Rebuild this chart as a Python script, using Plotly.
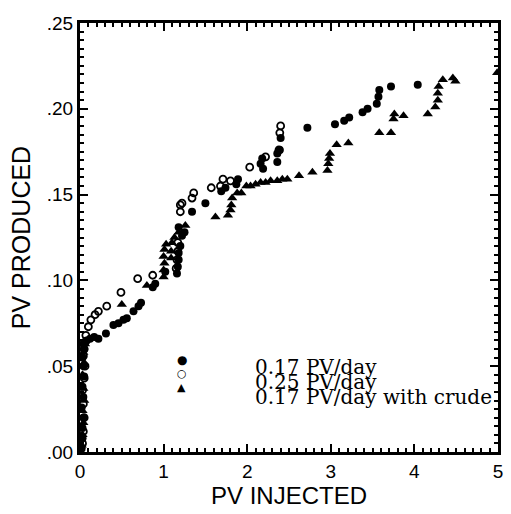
import plotly.graph_objects as go

# ---- data ----
filled_x = [0.02, 0.03, 0.03, 0.04, 0.02, 0.04, 0.03, 0.05, 0.04, 0.03, 0.05, 0.04,
            0.08, 0.12, 0.17, 0.22, 0.31, 0.40, 0.46, 0.52, 0.56, 0.64, 0.70, 0.73,
            0.87, 0.90, 1.02, 1.16, 1.17, 1.18, 1.18, 1.20, 1.18, 1.22, 1.25, 1.34,
            1.50, 1.69, 1.74, 1.87, 1.89, 2.16, 2.19, 2.18, 2.36, 2.36, 2.39, 2.40,
            2.72, 3.05, 3.16, 3.22, 3.38, 3.44, 3.55, 3.57, 3.58, 3.72, 4.04]
filled_y = [0.002, 0.008, 0.014, 0.020, 0.026, 0.032, 0.038, 0.044, 0.050, 0.055, 0.060, 0.063,
            0.065, 0.066, 0.067, 0.066, 0.069, 0.074, 0.075, 0.077, 0.078, 0.082, 0.085, 0.087,
            0.096, 0.098, 0.105, 0.104, 0.108, 0.112, 0.116, 0.120, 0.131, 0.126, 0.128, 0.140,
            0.145, 0.152, 0.154, 0.156, 0.159, 0.168, 0.165, 0.171, 0.169, 0.174, 0.176, 0.183,
            0.189, 0.191, 0.193, 0.195, 0.198, 0.200, 0.203, 0.207, 0.211, 0.213, 0.214]

open_x = [0.03, 0.04, 0.05, 0.04, 0.03, 0.05, 0.06, 0.04, 0.05, 0.06,
          0.07, 0.10, 0.13, 0.18, 0.22, 0.32, 0.49, 0.69, 0.87, 1.15, 1.16, 1.17,
          1.17, 1.20, 1.20, 1.22, 1.34, 1.36, 1.57, 1.68, 1.71, 1.80, 2.03, 2.22,
          2.38, 2.39, 2.40]
open_y = [0.005, 0.012, 0.020, 0.028, 0.036, 0.043, 0.050, 0.056, 0.060, 0.064,
          0.068, 0.073, 0.077, 0.080, 0.082, 0.085, 0.093, 0.101, 0.103, 0.107, 0.112, 0.117,
          0.122, 0.140, 0.144, 0.145, 0.148, 0.151, 0.154, 0.155, 0.159, 0.158, 0.166, 0.172,
          0.176, 0.186, 0.190]

tri_x = [0.02, 0.03, 0.04, 0.03, 0.05, 0.04, 0.03, 0.05, 0.04, 0.06,
         0.50, 0.80, 1.00, 1.00, 1.01, 1.00, 1.01, 1.03, 1.09, 1.09, 1.10, 1.13,
         1.18, 1.26, 1.62, 1.77, 1.80, 1.81, 1.82, 1.88, 1.93, 1.99, 2.04, 2.10,
         2.16, 2.22, 2.28, 2.36, 2.42, 2.48, 2.62, 2.78, 2.96, 2.97, 2.98, 2.99,
         3.07, 3.21, 3.58, 3.72, 3.75, 3.76, 3.87, 4.16, 4.25, 4.28, 4.28, 4.29,
         4.34, 4.46, 4.49, 4.99]
tri_y = [0.004, 0.010, 0.017, 0.024, 0.030, 0.037, 0.045, 0.052, 0.058, 0.063,
         0.086, 0.097, 0.102, 0.106, 0.110, 0.114, 0.118, 0.121, 0.113, 0.117, 0.122, 0.125,
         0.128, 0.132, 0.137, 0.138, 0.141, 0.144, 0.148, 0.151, 0.151, 0.155, 0.155, 0.156,
         0.157, 0.157, 0.158, 0.158, 0.159, 0.159, 0.161, 0.163, 0.164, 0.168, 0.171, 0.174,
         0.179, 0.180, 0.186, 0.186, 0.194, 0.197, 0.196, 0.197, 0.201, 0.205, 0.209, 0.213,
         0.217, 0.218, 0.216, 0.221]

x_ticks = [0, 1, 2, 3, 4, 5]
x_ticktext = ["0", "1", "2", "3", "4", "5"]
y_ticks = [0.0, 0.05, 0.10, 0.15, 0.20, 0.25]
y_ticktext = [".00", ".05", ".10", ".15", ".20", ".25"]

legend_labels = ["0.17 PV/day", "0.25 PV/day", "0.17 PV/day with crude"]
legend_glyphs = ["\u25CF", "\u25CB", "\u25B2"]

# ---- figure ----
fig = go.Figure()
fig.add_trace(go.Scatter(x=filled_x, y=filled_y, mode="markers", name=legend_labels[0],
                         marker=dict(symbol="circle", size=8, color="black")))
fig.add_trace(go.Scatter(x=open_x, y=open_y, mode="markers", name=legend_labels[1],
                         marker=dict(symbol="circle-open", size=7, color="black",
                                     line=dict(width=1.8, color="black"))))
fig.add_trace(go.Scatter(x=tri_x, y=tri_y, mode="markers", name=legend_labels[2],
                         marker=dict(symbol="triangle-up", size=9, color="black")))

axis_font = dict(family="Liberation Sans, Arial, sans-serif", size=19, color="black")
xtitle_font = dict(family="Liberation Sans, Arial, sans-serif", size=24, color="black")
ytitle_font = dict(family="Liberation Sans, Arial, sans-serif", size=25, color="black")

common = dict(showline=True, linewidth=3, linecolor="black", mirror="ticks",
              ticks="inside", ticklen=8, tickwidth=2, tickcolor="black",
              showgrid=False, zeroline=False, tickfont=axis_font)

fig.update_xaxes(range=[0, 5], tickvals=x_ticks, ticktext=x_ticktext,
                 minor=dict(dtick=0.1, ticks="inside", ticklen=4, tickwidth=1.5, tickcolor="black"),
                 title=dict(text="PV INJECTED", font=xtitle_font, standoff=5),
                 **common)
fig.update_yaxes(range=[0, 0.25], tickvals=y_ticks, ticktext=y_ticktext,
                 minor=dict(dtick=0.005, ticks="inside", ticklen=4, tickwidth=1.5, tickcolor="black"),
                 title=dict(text="PV PRODUCED", font=ytitle_font, standoff=10),
                 **common)

# compact key, laid out like the original
W, H = 511, 514
ml, mr, mt, mb = 80, 8, 23, 62
pw, ph = W - ml - mr, H - mt - mb
def px(x):
    return (x - ml) / pw
def py(y):
    return (H - mb - y) / ph

key_rows = [360, 373, 387]
key_sizes = [12, 11, 11]
text_rows = [367, 382, 397]
for g, ky, ks in zip(legend_glyphs, key_rows, key_sizes):
    fig.add_annotation(x=px(183), y=py(ky), xref="paper", yref="paper", text=g,
                       showarrow=False, xanchor="center", yanchor="middle",
                       font=dict(family="DejaVu Sans, sans-serif", size=ks, color="black"))
for lab, ty in zip(legend_labels, text_rows):
    fig.add_annotation(x=px(255), y=py(ty), xref="paper", yref="paper", text=lab,
                       showarrow=False, xanchor="left", yanchor="middle",
                       font=dict(family="DejaVu Serif, serif", size=20, color="black"))

fig.update_layout(width=W, height=H, margin=dict(l=ml, r=mr, t=mt, b=mb),
                  plot_bgcolor="rgba(0,0,0,0)", paper_bgcolor="white", showlegend=False)

fig.write_html("out.html")
